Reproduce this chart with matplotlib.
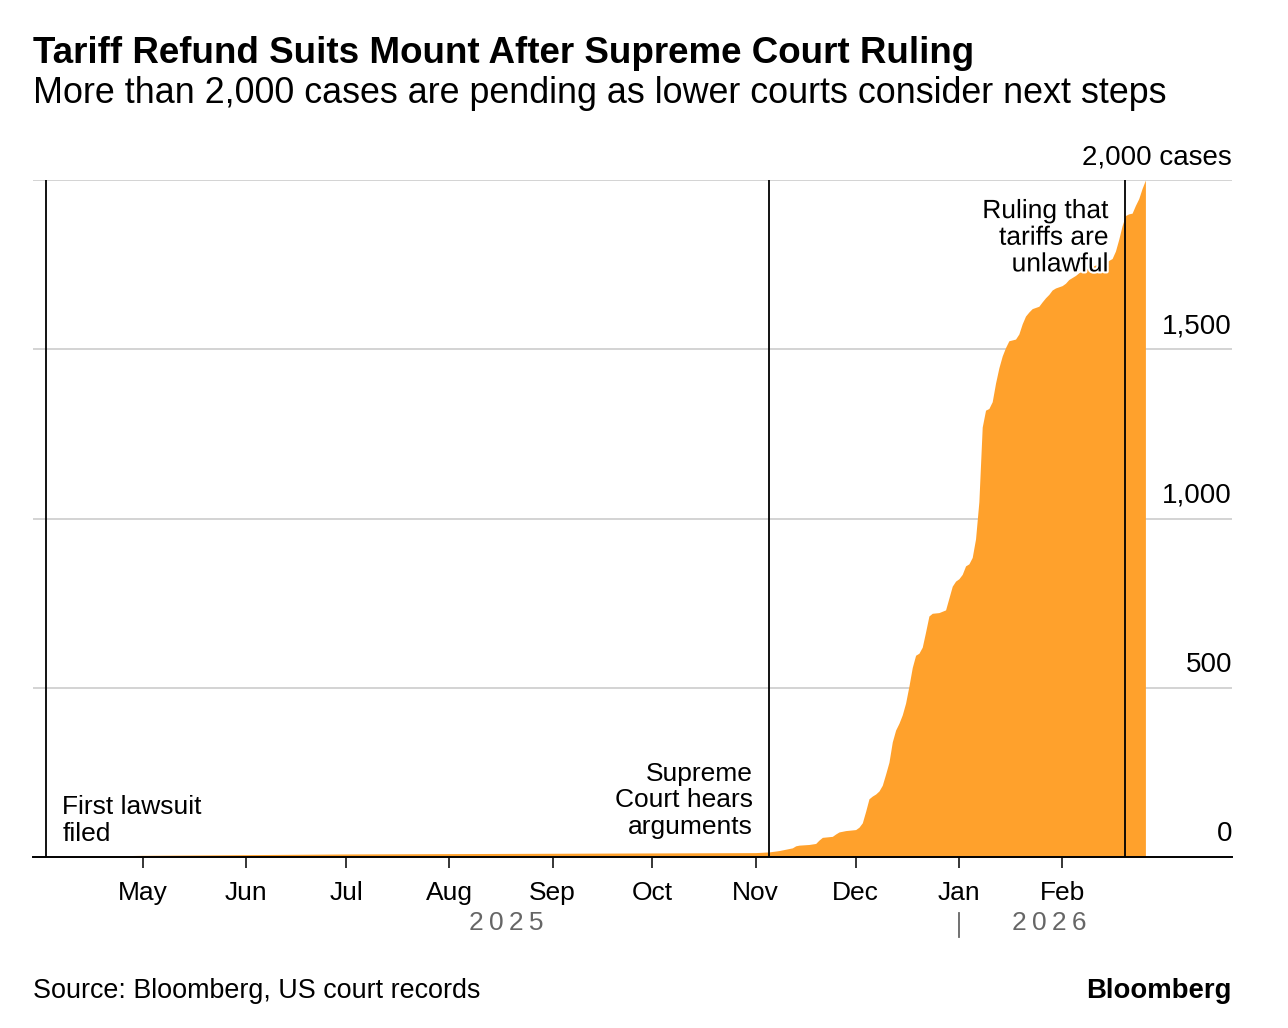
import matplotlib
matplotlib.use("Agg")
import matplotlib.pyplot as plt
import matplotlib.dates as mdates
import matplotlib.transforms as mtransforms
import matplotlib.patheffects as pe
import pandas as pd

# Cumulative tariff refund suits
dates = [
    "2025-04-03", "2025-04-10", "2025-04-20", "2025-05-01", "2025-06-01", "2025-07-01",
    "2025-08-01", "2025-09-01", "2025-10-01", "2025-11-01", "2025-11-05", "2025-11-08",
    "2025-11-10", "2025-11-12", "2025-11-13", "2025-11-14", "2025-11-17", "2025-11-19",
    "2025-11-20", "2025-11-21", "2025-11-24", "2025-11-25", "2025-11-26", "2025-11-28",
    "2025-11-30", "2025-12-01", "2025-12-02", "2025-12-03", "2025-12-04", "2025-12-05",
    "2025-12-06", "2025-12-07", "2025-12-08", "2025-12-09", "2025-12-10", "2025-12-11",
    "2025-12-12", "2025-12-13", "2025-12-14", "2025-12-15", "2025-12-16", "2025-12-17",
    "2025-12-18", "2025-12-19", "2025-12-20", "2025-12-21", "2025-12-22", "2025-12-23",
    "2025-12-24", "2025-12-26", "2025-12-28", "2025-12-29", "2025-12-30", "2025-12-31",
    "2026-01-01", "2026-01-02", "2026-01-03", "2026-01-04", "2026-01-05", "2026-01-06",
    "2026-01-07", "2026-01-08", "2026-01-09", "2026-01-10", "2026-01-11", "2026-01-12",
    "2026-01-13", "2026-01-14", "2026-01-15", "2026-01-16", "2026-01-18", "2026-01-19",
    "2026-01-20", "2026-01-21", "2026-01-22", "2026-01-23", "2026-01-25", "2026-01-26",
    "2026-01-27", "2026-01-28", "2026-01-29", "2026-01-30", "2026-02-01", "2026-02-02",
    "2026-02-03", "2026-02-05", "2026-02-06", "2026-02-08", "2026-02-10", "2026-02-12",
    "2026-02-14", "2026-02-16", "2026-02-17", "2026-02-18", "2026-02-19", "2026-02-20",
    "2026-02-21", "2026-02-22", "2026-02-23", "2026-02-24", "2026-02-25", "2026-02-26",
]
cases = [
    1, 2, 3, 5, 7, 9,
    10, 11, 12, 13, 15, 19,
    23, 27, 33, 35, 37, 40,
    50, 58, 61, 68, 74, 78,
    80, 81, 88, 101, 135, 172,
    180, 186, 195, 212, 245, 280,
    340, 375, 395, 420, 455, 505,
    560, 596, 602, 620, 665, 712,
    720, 722, 730, 765, 800, 815,
    822, 835, 860, 866, 885, 940,
    1050, 1270, 1320, 1325, 1345, 1400,
    1445, 1480, 1505, 1525, 1530, 1545,
    1575, 1598, 1610, 1620, 1627, 1640,
    1652, 1662, 1675, 1681, 1688, 1695,
    1706, 1718, 1726, 1735, 1745, 1752,
    1757, 1768, 1790, 1825, 1865, 1895,
    1900, 1902, 1925, 1945, 1975, 2000,
]

yticks = [0, 500, 1000, 1500, 2000]
ytick_labels = ["0", "500", "1,000", "1,500", "2,000 cases"]
month_ticks = ["2025-05-01", "2025-06-01", "2025-07-01", "2025-08-01", "2025-09-01",
               "2025-10-01", "2025-11-01", "2025-12-01", "2026-01-01", "2026-02-01"]

event_dates = ["2025-04-02", "2025-11-05", "2026-02-20"]
event_labels = ["First lawsuit\nfiled", "Supreme\nCourt hears\narguments",
                "Ruling that\ntariffs are\nunlawful"]

ORANGE = "#ffa12c"
FS = 19
plt.rcParams["font.family"] = ["Liberation Sans", "DejaVu Sans"]

x = pd.to_datetime(dates)

fig = plt.figure(figsize=(12.88, 10.28), dpi=100)
W, H = 1288, 1028
ax = fig.add_axes([33 / W, 1 - 857 / H, (1232 - 33) / W, (857 - 180) / H])

ax.fill_between(x, cases, 0, color=ORANGE, lw=0, zorder=2)

ax.set_ylim(0, 2000)
ax.set_xlim(pd.Timestamp("2025-03-29"), pd.Timestamp("2026-03-24"))

# gridlines + right side labels
for v, lab in zip(yticks, ytick_labels):
    if v > 0:
        ax.axhline(v, color="#cccccc", lw=1.2, zorder=0)
    ax.annotate(lab, xy=(1.0, v), xycoords=("axes fraction", "data"),
                xytext=(0, 7), textcoords="offset points",
                ha="right", va="bottom", fontsize=20, color="black")
ax.set_yticks([])

for s in ["top", "left", "right"]:
    ax.spines[s].set_visible(False)
ax.spines["bottom"].set_color("black")
ax.spines["bottom"].set_linewidth(1.4)
ax.spines["bottom"].set_zorder(5)

# x axis months
ax.set_xticks(pd.to_datetime(month_ticks))
ax.xaxis.set_major_formatter(mdates.DateFormatter("%b"))
ax.tick_params(axis="x", length=8, width=1.1, pad=9, labelsize=FS, colors="black")

# event lines and labels (va=baseline -> last line's baseline)
ev = pd.to_datetime(event_dates)
for d in ev:
    ax.axvline(d, color="black", lw=1.3, zorder=4)

ax.annotate(event_labels[0], xy=(ev[0], 48), xytext=(11.5, 0), textcoords="offset points",
            ha="left", va="baseline", fontsize=FS, linespacing=1.14)
ax.annotate(event_labels[1], xy=(ev[1], 68), xytext=(-11.5, 0), textcoords="offset points",
            ha="right", va="baseline", fontsize=FS, linespacing=1.14)
ax.annotate(event_labels[2], xy=(ev[2], 1730), xytext=(-12, 0), textcoords="offset points",
            ha="right", va="baseline", fontsize=FS, linespacing=1.14, zorder=6,
            path_effects=[pe.withStroke(linewidth=3, foreground="white")])

# year labels
trans = mtransforms.blended_transform_factory(ax.transData, ax.transAxes)
ax.text(pd.Timestamp("2025-08-18"), -0.097, "2\u20090\u20092\u20095", transform=trans,
        ha="center", va="center", fontsize=FS, color="#666666")
ax.text(pd.Timestamp("2026-01-28"), -0.097, "2\u20090\u20092\u20096", transform=trans,
        ha="center", va="center", fontsize=FS, color="#666666")
jan1 = pd.Timestamp("2026-01-01")
ax.plot([jan1, jan1], [-0.083, -0.118], transform=trans, color="#666666", lw=1.3,
        clip_on=False)

# titles and footer
fig.text(33 / W, 1 - 63 / H, "Tariff Refund Suits Mount After Supreme Court Ruling",
         fontsize=26.5, fontweight="bold", ha="left", va="baseline")
fig.text(33 / W, 1 - 103 / H, "More than 2,000 cases are pending as lower courts consider next steps",
         fontsize=25.85, ha="left", va="baseline")
fig.text(33 / W, 1 - 998 / H, "Source: Bloomberg, US court records",
         fontsize=19.4, ha="left", va="baseline")
fig.text(1232 / W, 1 - 998 / H, "Bloomberg", fontsize=19.8, fontweight="bold",
         ha="right", va="baseline")

fig.savefig("out.png", dpi=100)
